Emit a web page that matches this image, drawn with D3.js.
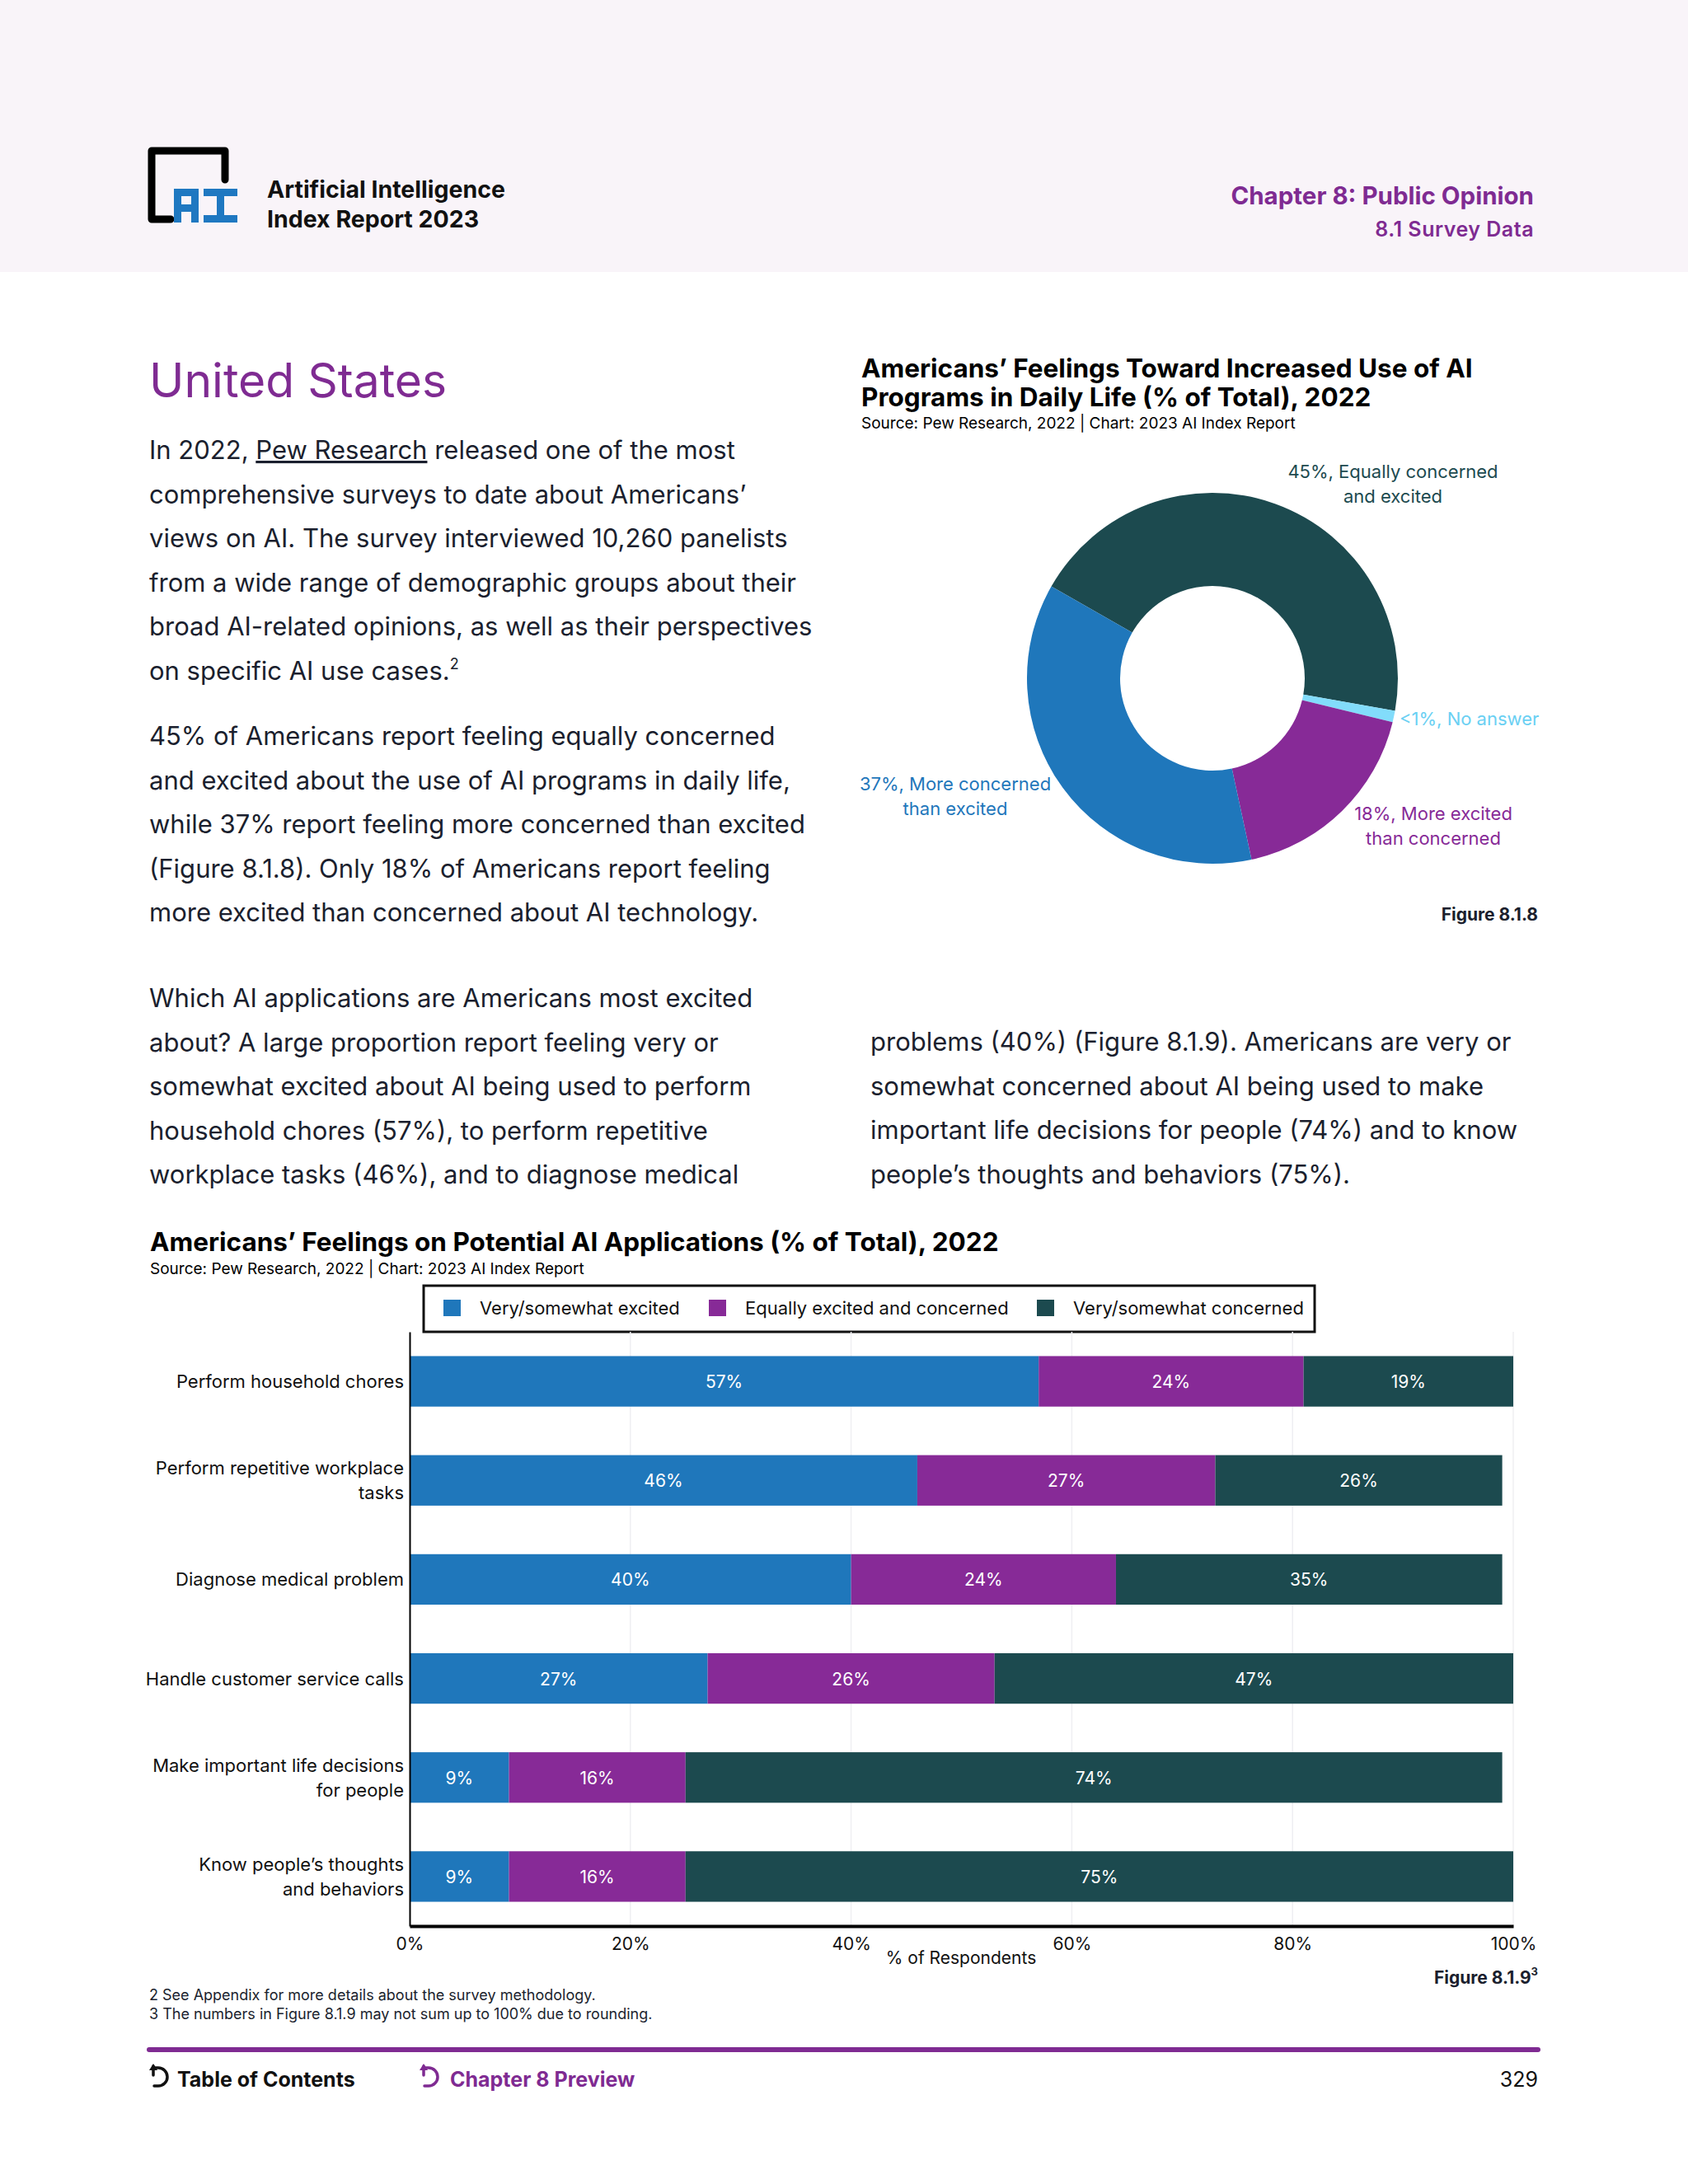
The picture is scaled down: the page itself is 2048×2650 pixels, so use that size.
<!DOCTYPE html>
<html lang="en">
<head>
<meta charset="UTF-8">
<title>AI Index 2023 - United States</title>
<script src="https://cdn.jsdelivr.net/npm/d3@7"></script>
<style>
  body { margin: 0; background: #fff; }
  svg text { font-family: Inter, Lato, sans-serif; }
</style>
</head>
<body>
<script>
  // ---- data ----
  var donutLabels = [["45%, Equally concerned", "and excited"], ["<1%, No answer"],
    ["18%, More excited", "than concerned"], ["37%, More concerned", "than excited"]];
  var donutValues = [45, 1, 18, 37];

  var categories = [
    ["Perform household chores"],
    ["Perform repetitive workplace", "tasks"],
    ["Diagnose medical problem"],
    ["Handle customer service calls"],
    ["Make important life decisions", "for people"],
    ["Know people’s thoughts", "and behaviors"]
  ];
  var seriesNames = ["Very/somewhat excited", "Equally excited and concerned", "Very/somewhat concerned"];
  var excited = [57, 46, 40, 27, 9, 9];
  var equally = [24, 27, 24, 26, 16, 16];
  var concerned = [19, 26, 35, 47, 74, 75];
  var xTicks = [0, 20, 40, 60, 80, 100];

  var blue = "#1f77bb", purple = "#872a97", dark = "#1c4a4f", light = "#82dcfb";
  var ink = "#1b1f2e", brand = "#7f2b92";

  var svg = d3.select("body").append("svg")
    .attr("width", 2048)
    .attr("height", 2650);

  // ---- page header ----
  svg.append("rect").attr("width", 2048).attr("height", 330).attr("fill", "#f9f4f9");

  var logo = svg.append("g");
  logo.append("path")
    .attr("d", "M207,266 H184 V183 H273 V218")
    .attr("fill", "none").attr("stroke", "#000").attr("stroke-width", 9)
    .attr("stroke-linejoin", "round").attr("stroke-linecap", "round");
  // "A"
  logo.append("path")
    .attr("d", "M211,270 V229 H241 V270 H232 V257 H220 V270 Z M220,238 V248 H232 V238 Z")
    .attr("fill", "#1f78c1").attr("fill-rule", "evenodd");
  // "I"
  logo.append("path")
    .attr("d", "M247,229 H288 V238 H272 V261 H288 V270 H247 V261 H263 V238 H247 Z")
    .attr("fill", "#1f78c1");

  svg.append("text").attr("x", 324).attr("y", 240)
    .attr("font-size", 28.5).attr("font-weight", 700).attr("fill", "#111")
    .text("Artificial Intelligence");
  svg.append("text").attr("x", 324).attr("y", 276)
    .attr("font-size", 28.5).attr("font-weight", 700).attr("fill", "#111")
    .text("Index Report 2023");
  svg.append("text").attr("x", 1861).attr("y", 248).attr("text-anchor", "end")
    .attr("font-size", 29.5).attr("font-weight", 700).attr("fill", brand)
    .text("Chapter 8: Public Opinion");
  svg.append("text").attr("x", 1861).attr("y", 287).attr("text-anchor", "end")
    .attr("font-size", 25).attr("font-weight", 600).attr("fill", brand)
    .attr("letter-spacing", 0.5)
    .text("8.1 Survey Data");

  // ---- body text ----
  svg.append("text").attr("x", 181).attr("y", 482)
    .attr("font-size", 57).attr("fill", brand)
    .text("United States");

  function paragraph(x, y0, lines) {
    var t = svg.append("text").attr("font-size", 31).attr("fill", ink);
    lines.forEach(function (l, i) {
      var ts = t.append("tspan").attr("x", x).attr("y", y0 + i * 53.6);
      if (typeof l === "string") ts.text(l);
      else l.forEach(function (part) {
        var p = ts.append("tspan").text(part.t);
        if (part.u) p.attr("text-decoration", "underline");
        if (part.sup) p.attr("font-size", 18).attr("dy", -13);
      });
    });
  }

  paragraph(181, 557, [
    [{t: "In 2022, "}, {t: "Pew Research", u: true}, {t: " released one of the most"}],
    "comprehensive surveys to date about Americans’",
    "views on AI. The survey interviewed 10,260 panelists",
    "from a wide range of demographic groups about their",
    "broad AI-related opinions, as well as their perspectives",
    [{t: "on specific AI use cases."}, {t: "2", sup: true}]
  ]);
  paragraph(181, 904, [
    "45% of Americans report feeling equally concerned",
    "and excited about the use of AI programs in daily life,",
    "while 37% report feeling more concerned than excited",
    "(Figure 8.1.8). Only 18% of Americans report feeling",
    "more excited than concerned about AI technology."
  ]);
  paragraph(181, 1222, [
    "Which AI applications are Americans most excited",
    "about? A large proportion report feeling very or",
    "somewhat excited about AI being used to perform",
    "household chores (57%), to perform repetitive",
    "workplace tasks (46%), and to diagnose medical"
  ]);
  paragraph(1056, 1275, [
    "problems (40%) (Figure 8.1.9). Americans are very or",
    "somewhat concerned about AI being used to make",
    "important life decisions for people (74%) and to know",
    "people’s thoughts and behaviors (75%)."
  ]);

  // ---- donut chart (Figure 8.1.8) ----
  var dg = svg.append("g");
  dg.append("text").attr("x", 1045).attr("y", 458)
    .attr("font-size", 31.5).attr("font-weight", 700).attr("fill", "#000")
    .text("Americans’ Feelings Toward Increased Use of AI");
  dg.append("text").attr("x", 1045).attr("y", 493)
    .attr("font-size", 31.5).attr("font-weight", 700).attr("fill", "#000")
    .text("Programs in Daily Life (% of Total), 2022");
  dg.append("text").attr("x", 1045).attr("y", 520)
    .attr("font-size", 19).attr("fill", "#000")
    .text("Source: Pew Research, 2022 | Chart: 2023 AI Index Report");

  var donutColors = [dark, light, purple, blue];
  var start = -60.3 * Math.PI / 180;
  var pie = d3.pie().sort(null).startAngle(start).endAngle(start + 2 * Math.PI);
  var arc = d3.arc().innerRadius(112).outerRadius(225);
  var cx = 1471, cy = 823;

  dg.append("g").attr("transform", "translate(" + cx + "," + cy + ")")
    .selectAll("path")
    .data(pie(donutValues))
    .enter()
    .append("path")
    .attr("d", arc)
    .attr("fill", function (d, i) { return donutColors[i]; });

  // label anchors (placement only)
  var labelPos = [
    {x: 1690, y: 580, anchor: "middle"},
    {x: 1698, y: 880, anchor: "start"},
    {x: 1739, y: 995, anchor: "middle"},
    {x: 1159, y: 959, anchor: "middle"}
  ];
  var labelColors = [dark, "#6ad0f3", purple, blue];
  donutLabels.forEach(function (lines, i) {
    var t = dg.append("text").attr("font-size", 22)
      .attr("text-anchor", labelPos[i].anchor)
      .attr("fill", labelColors[i]);
    lines.forEach(function (l, j) {
      t.append("tspan").attr("x", labelPos[i].x).attr("y", labelPos[i].y + j * 30).text(l);
    });
  });

  dg.append("text").attr("x", 1866).attr("y", 1117).attr("text-anchor", "end")
    .attr("font-size", 21).attr("font-weight", 700).attr("fill", ink)
    .text("Figure 8.1.8");

  // ---- stacked bar chart (Figure 8.1.9) ----
  var bg = svg.append("g");
  bg.append("text").attr("x", 182).attr("y", 1518)
    .attr("font-size", 31.5).attr("font-weight", 700).attr("fill", "#000")
    .text("Americans’ Feelings on Potential AI Applications (% of Total), 2022");
  bg.append("text").attr("x", 182).attr("y", 1546)
    .attr("font-size", 19).attr("fill", "#000")
    .text("Source: Pew Research, 2022 | Chart: 2023 AI Index Report");

  // legend
  var barColors = [blue, purple, dark];
  bg.append("rect").attr("x", 514).attr("y", 1560).attr("width", 1081).attr("height", 56)
    .attr("fill", "#fff").attr("stroke", "#111").attr("stroke-width", 3);
  var legendX = [538, 860, 1258];
  seriesNames.forEach(function (name, i) {
    bg.append("rect").attr("x", legendX[i]).attr("y", 1577).attr("width", 21).attr("height", 20)
      .attr("fill", barColors[i]);
    bg.append("text").attr("x", legendX[i] + 44).attr("y", 1595)
      .attr("font-size", 22).attr("fill", "#111").text(name);
  });

  var rows = categories.map(function (c, i) {
    return {key: i, excited: excited[i], equally: equally[i], concerned: concerned[i]};
  });

  var x = d3.scaleLinear().domain([0, 100]).range([497, 1836]);
  var y = d3.scaleBand().domain(d3.range(categories.length))
    .range([1616, 2337]).paddingInner(0.49).paddingOuter(0.245);

  // grid
  bg.append("g").selectAll("line")
    .data(xTicks.slice(1))
    .enter()
    .append("line")
    .attr("x1", function (d) { return x(d); })
    .attr("x2", function (d) { return x(d); })
    .attr("y1", 1616).attr("y2", 2337)
    .attr("stroke", "#efeff2").attr("stroke-width", 1.5);

  var stack = d3.stack().keys(["excited", "equally", "concerned"]);
  var layers = bg.append("g").selectAll("g")
    .data(stack(rows))
    .enter()
    .append("g")
    .attr("fill", function (d, i) { return barColors[i]; });

  layers.selectAll("rect")
    .data(function (d) { return d; })
    .enter()
    .append("rect")
    .attr("x", function (d) { return x(d[0]); })
    .attr("y", function (d) { return y(d.data.key); })
    .attr("width", function (d) { return x(d[1]) - x(d[0]); })
    .attr("height", y.bandwidth());

  layers.selectAll("text")
    .data(function (d) { return d; })
    .enter()
    .append("text")
    .attr("x", function (d) { return (x(d[0]) + x(d[1])) / 2; })
    .attr("y", function (d) { return y(d.data.key) + y.bandwidth() / 2 + 8; })
    .attr("text-anchor", "middle")
    .attr("font-size", 21)
    .attr("fill", "#fff")
    .text(function (d) { return (d[1] - d[0]) + "%"; });

  // axes
  var xAxis = d3.axisBottom(x).tickValues(xTicks)
    .tickFormat(function (d) { return d + "%"; })
    .tickSize(0).tickSizeOuter(0).tickPadding(14);
  var gx = bg.append("g").attr("transform", "translate(0,2337)").call(xAxis);
  gx.select(".domain").attr("stroke", "#000").attr("stroke-width", 4);
  gx.selectAll("text").attr("font-size", 21).attr("fill", "#111")
    .attr("font-family", "Inter, sans-serif");

  var yAxis = d3.axisLeft(y).tickSize(0).tickSizeOuter(0).tickPadding(7)
    .tickFormat(function () { return ""; });
  var gy = bg.append("g").attr("transform", "translate(497,0)").call(yAxis);
  gy.select(".domain").attr("stroke", "#000").attr("stroke-width", 2);
  gy.selectAll(".tick text")
    .attr("font-size", 22).attr("fill", "#111")
    .attr("font-family", "Inter, sans-serif")
    .attr("dy", null)
    .each(function (d) {
      var lines = categories[d];
      var t = d3.select(this);
      lines.forEach(function (l, j) {
        t.append("tspan").attr("x", -7)
          .attr("y", 8 + (j - (lines.length - 1) / 2) * 30)
          .text(l);
      });
    });

  bg.append("text").attr("x", 1166).attr("y", 2383).attr("text-anchor", "middle")
    .attr("font-size", 21).attr("fill", "#111").text("% of Respondents");

  var fig = bg.append("text").attr("x", 1866).attr("y", 2407).attr("text-anchor", "end")
    .attr("font-size", 21).attr("font-weight", 700).attr("fill", ink);
  fig.append("tspan").text("Figure 8.1.9");
  fig.append("tspan").attr("font-size", 13).attr("dy", -10).text("3");

  // ---- footnotes & footer ----
  svg.append("text").attr("x", 181).attr("y", 2427).attr("font-size", 18).attr("fill", ink)
    .text("2 See Appendix for more details about the survey methodology.");
  svg.append("text").attr("x", 181).attr("y", 2450).attr("font-size", 18).attr("fill", ink)
    .text("3 The numbers in Figure 8.1.9 may not sum up to 100% due to rounding.");

  svg.append("line").attr("x1", 181).attr("x2", 1866).attr("y1", 2487).attr("y2", 2487)
    .attr("stroke", brand).attr("stroke-width", 6).attr("stroke-linecap", "round");

  function backIcon(x0, color) {
    svg.append("path")
      .attr("d", "M" + (x0 + 3) + ",2507 L" + (x0 + 3) + ",2518 M" + (x0 + 3) + ",2509 H" + (x0 + 9) +
        " A8,8 0 0 1 " + (x0 + 9) + ",2531 H" + (x0 + 4))
      .attr("fill", "none").attr("stroke", color).attr("stroke-width", 3.5)
      .attr("stroke-linecap", "round");
    svg.append("path")
      .attr("d", "M" + (x0 - 2) + ",2512 L" + (x0 + 3) + ",2504 L" + (x0 + 8) + ",2512 Z")
      .attr("fill", color);
  }
  backIcon(183, "#111");
  backIcon(511, brand);
  svg.append("text").attr("x", 215).attr("y", 2532).attr("font-size", 25)
    .attr("font-weight", 700).attr("fill", "#111").text("Table of Contents");
  svg.append("text").attr("x", 546).attr("y", 2532).attr("font-size", 25)
    .attr("font-weight", 700).attr("fill", brand).text("Chapter 8 Preview");
  svg.append("text").attr("x", 1866).attr("y", 2532).attr("text-anchor", "end")
    .attr("font-size", 25).attr("fill", "#111").text("329");
</script>
</body>
</html>
